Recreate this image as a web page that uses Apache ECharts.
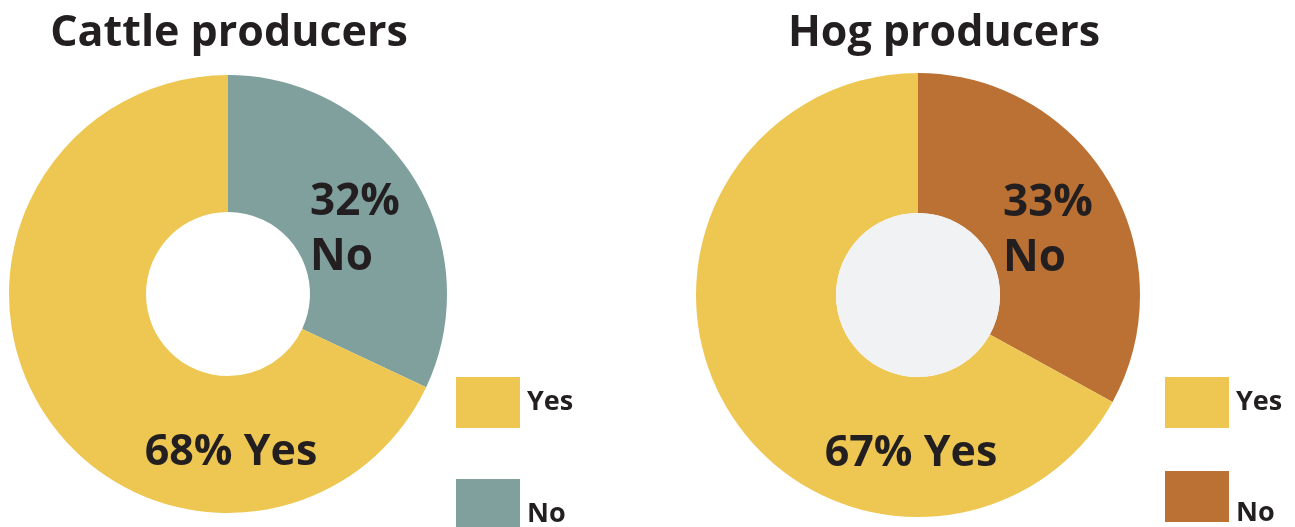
<!DOCTYPE html>
<html>
<head>
<meta charset="utf-8">
<script src="https://cdn.jsdelivr.net/npm/echarts@6/dist/echarts.min.js"></script>
<style>
  html, body { margin: 0; padding: 0; background: #fff; }
  #main { width: 1295px; height: 527px; }
</style>
</head>
<body>
<div id="main"></div>
<script>
// data
var categories = ['No', 'Yes']
var cattleValues = [32, 68]
var hogValues = [33, 67]
var titles = ['Cattle producers', 'Hog producers']

// colours
var yellow = '#EEC752'
var teal = '#7FA09D'
var rust = '#BB7133'
var ink = '#231F20'
var font = 'Open Sans'

// pie geometry
var leftCenter = [228, 294]
var rightCenter = [918, 295]

function labelPos(center, noOffset, yesOffset) {
    return function (params) {
        if (params.dataIndex == 0) {
            // "32% No" sits in the upper right, left aligned
            return { x: center[0] + noOffset, y: center[1] - 64, align: 'left', verticalAlign: 'middle' }
        }
        // "68% Yes" below the hole
        return { x: center[0] + yesOffset, y: center[1] + 159, align: 'center', verticalAlign: 'middle' }
    }
}

function makePie(values, colors, center, r, innerR, noOffset, yesOffset) {
    return {
        type: 'pie',
        center: center,
        radius: [innerR, r],
        startAngle: 90,
        clockwise: true,
        silent: true,
        itemStyle: { borderWidth: 0 },
        label: {
            show: true,
            position: 'inside',
            color: ink,
            fontFamily: font,
            fontWeight: 'bold',
            fontSize: 44,
            lineHeight: 55
        },
        labelLine: { show: false },
        labelLayout: labelPos(center, noOffset, yesOffset),
        data: categories.map(function (c, i) {
            return {
                name: c,
                value: values[i],
                itemStyle: { color: colors[i] },
                label: {
                    formatter: i == 0 ? '{c}%\n{b}' : '{c}% {b}',
                    fontSize: i == 0 ? 44 : 43
                }
            }
        })
    }
}

// one legend per item so the clipped "No" box does not wrap into a new column
// blank lines above the name push the text below the box middle
function makeLegendItem(name, color, left, top, blankLines, lineHeight) {
    var fmt = '{name}'
    for (let i = 0; i < blankLines; i++) fmt = '\n' + fmt
    return {
        orient: 'vertical',
        left: left,
        top: top,
        padding: 0,
        itemWidth: 64,
        itemHeight: 51,
        icon: 'rect',
        selectedMode: false,
        formatter: fmt,
        textStyle: { color: ink, fontFamily: font, fontWeight: 'bold', fontSize: 27,
                     lineHeight: lineHeight, padding: [0, 0, 0, 2] },
        data: [{ name: name, itemStyle: { color: color } }]
    }
}

var chart = echarts.init(document.getElementById('main'))
chart.setOption({
    backgroundColor: '#fff',
    animation: false,
    title: [
        { text: titles[0], left: 224, top: 7, textAlign: 'center',
          textStyle: { color: ink, fontFamily: font, fontWeight: 'bold', fontSize: 43 } },
        { text: titles[1], left: 939, top: 7, textAlign: 'center',
          textStyle: { color: ink, fontFamily: font, fontWeight: 'bold', fontSize: 43 } }
    ],
    legend: [
        makeLegendItem('Yes', yellow, 456, 377, 0, 30),
        makeLegendItem('No', teal, 456, 479, 1, 20),
        makeLegendItem('Yes', yellow, 1165, 377, 0, 30),
        makeLegendItem('No', rust, 1165, 466, 2, 17)
    ],
    series: [
        makePie(cattleValues, [teal, yellow], leftCenter, 219, 82, 82, 3),
        makePie(hogValues, [rust, yellow], rightCenter, 222, 82, 85, -7),
        {
            // light grey hole of the hog donut
            type: 'pie',
            name: 'hole',
            center: rightCenter,
            radius: [0, 82],
            silent: true,
            label: { show: false },
            labelLine: { show: false },
            itemStyle: { color: '#F1F2F4' },
            data: [{ name: 'hole', value: 1 }]
        }
    ]
})
</script>
</body>
</html>
